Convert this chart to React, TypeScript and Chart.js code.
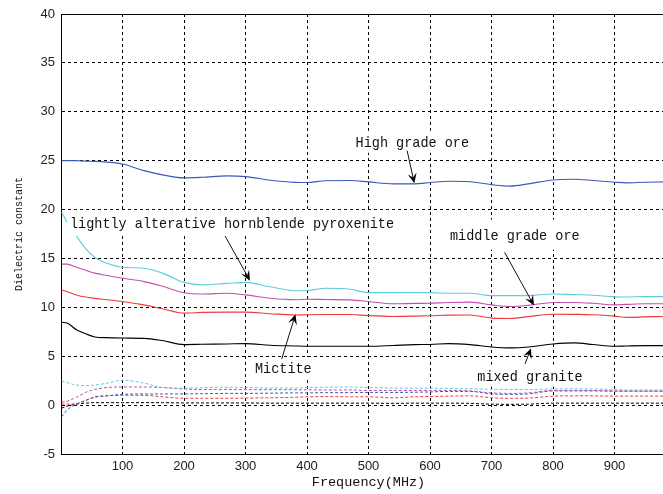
import React, { useEffect, useRef } from "react";
import { Chart, registerables } from "chart.js";

Chart.register(...registerables);

// Frequency samples (MHz)
const frequencies = [1, 10, 25, 40, 55, 75, 100, 135, 165, 200, 230, 270, 300, 340, 380, 400, 430, 470, 500, 540, 575, 600, 630, 665, 700, 730, 760, 800, 835, 865, 900, 920, 950, 980];

// Solid curves: dielectric constant
const highGradeOre = [25.0, 25.0, 25.0, 24.95, 24.93, 24.85, 24.66, 23.98, 23.55, 23.24, 23.3, 23.44, 23.37, 23.0, 22.78, 22.76, 22.95, 22.97, 22.83, 22.63, 22.63, 22.76, 22.9, 22.85, 22.55, 22.4, 22.63, 23.03, 23.1, 22.97, 22.8, 22.73, 22.8, 22.83];
const hornblendePyroxenite = [19.75, 18.7, 17.3, 16.0, 15.1, 14.5, 14.1, 14.0, 13.5, 12.55, 12.3, 12.45, 12.55, 12.1, 11.7, 11.72, 11.95, 11.85, 11.5, 11.5, 11.5, 11.5, 11.44, 11.44, 11.2, 11.2, 11.2, 11.37, 11.3, 11.24, 11.07, 11.05, 11.1, 11.1];
const middleGradeOre = [14.42, 14.42, 14.1, 13.8, 13.5, 13.25, 12.97, 12.63, 12.15, 11.5, 11.37, 11.44, 11.27, 10.93, 10.78, 10.83, 10.8, 10.76, 10.6, 10.36, 10.4, 10.42, 10.5, 10.53, 10.25, 10.08, 10.2, 10.5, 10.5, 10.42, 10.25, 10.3, 10.36, 10.36];
const mictite = [11.78, 11.6, 11.27, 11.05, 10.92, 10.78, 10.6, 10.25, 9.85, 9.41, 9.48, 9.51, 9.51, 9.35, 9.22, 9.24, 9.26, 9.27, 9.15, 9.07, 9.1, 9.14, 9.2, 9.22, 8.9, 8.86, 9.05, 9.3, 9.28, 9.24, 9.1, 8.97, 9.02, 9.07];
const mixedGranite = [8.46, 8.39, 7.71, 7.3, 6.97, 6.9, 6.86, 6.83, 6.6, 6.19, 6.22, 6.25, 6.29, 6.12, 6.05, 6.02, 6.02, 6.02, 6.02, 6.1, 6.19, 6.2, 6.29, 6.19, 5.95, 5.85, 5.95, 6.25, 6.36, 6.2, 6.02, 6.05, 6.08, 6.08];

// Dashed curves (same colours, lower values)
const hornblendeDashed = [2.48, 2.3, 2.05, 2.0, 2.05, 2.25, 2.55, 2.25, 1.8, 1.73, 1.78, 1.83, 1.8, 1.75, 1.75, 1.8, 1.83, 1.85, 1.8, 1.75, 1.73, 1.73, 1.7, 1.67, 1.62, 1.6, 1.6, 1.65, 1.67, 1.65, 1.6, 1.55, 1.55, 1.55];
const middleDashed = [0.3, 0.4, 0.8, 1.3, 1.6, 1.8, 1.85, 1.85, 1.8, 1.65, 1.6, 1.6, 1.58, 1.58, 1.57, 1.57, 1.55, 1.55, 1.5, 1.5, 1.5, 1.5, 1.5, 1.45, 1.25, 1.2, 1.25, 1.5, 1.5, 1.5, 1.45, 1.45, 1.45, 1.45];
const highDashed = [-1.2, -0.5, 0.1, 0.45, 0.85, 0.95, 1.1, 1.14, 1.14, 1.15, 1.17, 1.2, 1.2, 1.22, 1.25, 1.25, 1.27, 1.28, 1.3, 1.3, 1.32, 1.35, 1.4, 1.4, 1.15, 1.1, 1.15, 1.45, 1.45, 1.45, 1.42, 1.42, 1.42, 1.42];
const mictiteDashed = [0.1, 0.1, 0.15, 0.5, 0.8, 0.95, 1.0, 1.0, 0.85, 0.7, 0.7, 0.7, 0.72, 0.75, 0.8, 0.85, 0.87, 0.85, 0.85, 0.75, 0.85, 0.88, 0.92, 0.95, 0.75, 0.7, 0.72, 0.92, 0.95, 0.95, 0.92, 0.92, 0.92, 0.92];
const graniteDashed = [-0.3, -0.1, 0.1, 0.2, 0.25, 0.25, 0.25, 0.25, 0.25, 0.22, 0.22, 0.22, 0.22, 0.2, 0.2, 0.2, 0.2, 0.2, 0.2, 0.18, 0.2, 0.2, 0.2, 0.18, 0.1, 0.08, 0.1, 0.2, 0.2, 0.2, 0.2, 0.2, 0.2, 0.2];

// Axis settings
const xRange = [0, 1000];
const yRange = [-5, 40];
const xTitle = "Frequency(MHz)";
const yTitle = "Dielectric constant";

// Text arrows (anchored in data coordinates)
const textLabels = [
  { text: "High grade ore", f: 479, v: 26.93, half: 11 },
  { text: "lightly alterative hornblende pyroxenite", f: 14.6, v: 18.63, half: 13 },
  { text: "middle grade ore", f: 632.5, v: 17.43, half: 15 },
  { text: "Mictite", f: 315.4, v: 3.78, half: 11 },
  { text: "mixed granite", f: 676.9, v: 3.02, half: 11 },
];
const arrows = [
  { from: [562.8, 26.03], to: [574.5, 22.69] },
  { from: [266.7, 17.3], to: [307.3, 12.73] },
  { from: [721.3, 15.62], to: [769, 10.2] },
  { from: [358.9, 4.73], to: [381.3, 9.28] },
  { from: [754.5, 4.21], to: [764.2, 5.8] },
];

const BLUE = "#3a58b8";
const CYAN = "#5ccbdc";
const MAGENTA = "#c24fae";
const RED = "#f03a3a";
const BLACK = "#000000";

const toPoints = (vals: number[]) => frequencies.map((f, i) => ({ x: f, y: vals[i] }));

function drawArrow(ctx: CanvasRenderingContext2D, x0: number, y0: number, x1: number, y1: number) {
  const ang = Math.atan2(y1 - y0, x1 - x0);
  const L = 10;
  const W = 4.5;
  const c = Math.cos(ang);
  const s = Math.sin(ang);
  ctx.strokeStyle = "#111";
  ctx.fillStyle = "#000";
  ctx.lineWidth = 1;
  ctx.beginPath();
  ctx.moveTo(x0, y0);
  ctx.lineTo(x1 - c * L * 0.6, y1 - s * L * 0.6);
  ctx.stroke();
  const bx = x1 - c * L;
  const by = y1 - s * L;
  const nx = -s;
  const ny = c;
  const mx = x1 - c * L * 0.6;
  const my = y1 - s * L * 0.6;
  ctx.beginPath();
  ctx.moveTo(x1, y1);
  ctx.lineTo(bx + nx * W, by + ny * W);
  ctx.lineTo(mx, my);
  ctx.lineTo(bx - nx * W, by - ny * W);
  ctx.closePath();
  ctx.fill();
}

const annotationPlugin = {
  id: "matlabAnnotations",
  afterDatasetsDraw(chart: any) {
    const { ctx, chartArea, scales } = chart;
    const xs = scales.x;
    const ys = scales.y;
    ctx.save();
    // solid top box line
    ctx.strokeStyle = "#000";
    ctx.lineWidth = 1;
    ctx.beginPath();
    const ty = Math.round(chartArea.top) + 0.5;
    ctx.moveTo(chartArea.left, ty);
    ctx.lineTo(chartArea.right, ty);
    ctx.stroke();

    const sx = 0.9;
    ctx.font = '15px "Liberation Mono", "DejaVu Sans Mono", monospace';
    for (const a of textLabels) {
      const px = xs.getPixelForValue(a.f);
      const py = ys.getPixelForValue(a.v);
      const w = ctx.measureText(a.text).width * sx;
      ctx.fillStyle = "#ffffff";
      ctx.fillRect(px - 3, py - a.half, w + 6, a.half * 2);
      ctx.save();
      ctx.translate(px, py);
      ctx.scale(sx, 1);
      ctx.fillStyle = "#111";
      ctx.textBaseline = "middle";
      ctx.textAlign = "left";
      ctx.fillText(a.text, 0, 1);
      ctx.restore();
    }
    for (const ar of arrows) {
      drawArrow(
        ctx,
        xs.getPixelForValue(ar.from[0]),
        ys.getPixelForValue(ar.from[1]),
        xs.getPixelForValue(ar.to[0]),
        ys.getPixelForValue(ar.to[1])
      );
    }
    ctx.restore();
  },
};

export default function App() {
  const canvasRef = useRef<HTMLCanvasElement | null>(null);

  useEffect(() => {
    if (!canvasRef.current) return;
    const solid = (label: string, vals: number[], color: string) => ({
      label,
      data: toPoints(vals),
      borderColor: color,
      backgroundColor: color,
      borderWidth: 1.1,
      pointRadius: 0,
      cubicInterpolationMode: "monotone" as const,
      fill: false,
    });
    const dashed = (label: string, vals: number[], color: string) => ({
      ...solid(label, vals, color),
      borderDash: [3, 2],
      borderWidth: 1,
    });
    const tickFont = { family: "'Liberation Sans Narrow', 'Liberation Sans', Arial, sans-serif", size: 13 };
    const chart = new Chart(canvasRef.current, {
      type: "line",
      data: {
        datasets: [
          dashed("lightly alterative hornblende pyroxenite (dashed)", hornblendeDashed, CYAN),
          dashed("middle grade ore (dashed)", middleDashed, MAGENTA),
          dashed("High grade ore (dashed)", highDashed, BLUE),
          dashed("Mictite (dashed)", mictiteDashed, RED),
          dashed("mixed granite (dashed)", graniteDashed, BLACK),
          solid("High grade ore", highGradeOre, BLUE),
          solid("lightly alterative hornblende pyroxenite", hornblendePyroxenite, CYAN),
          solid("middle grade ore", middleGradeOre, MAGENTA),
          solid("Mictite", mictite, RED),
          solid("mixed granite", mixedGranite, BLACK),
        ],
      },
      options: {
        animation: false,
        responsive: false,
        maintainAspectRatio: false,
        layout: { padding: { top: 14, right: 4, bottom: 0, left: 0 } },
        plugins: { legend: { display: false }, tooltip: { enabled: false } },
        scales: {
          x: {
            type: "linear",
            min: xRange[0],
            max: xRange[1],
            ticks: { stepSize: 100, padding: 5, font: tickFont, color: "#222", maxRotation: 0 },
            grid: { color: "#000", lineWidth: 1, drawTicks: false },
            border: { color: "#000", width: 1, dash: [3, 3] },
            title: {
              display: true,
              text: xTitle,
              color: "#111",
              font: { family: '"Liberation Mono", "DejaVu Sans Mono", monospace', size: 13.5 },
              padding: { top: 0, bottom: 3 },
            },
            afterBuildTicks: (s: any) => {
              s.ticks = s.ticks.filter((t: any) => t.value > xRange[0] && t.value < xRange[1]);
            },
            afterFit: (s: any) => {
              s.height = 40;
            },
          },
          y: {
            type: "linear",
            min: yRange[0],
            max: yRange[1],
            ticks: { stepSize: 5, padding: 6, font: tickFont, color: "#222" },
            grid: { color: "#000", lineWidth: 1, drawTicks: false },
            border: { color: "#000", width: 1, dash: [3, 3] },
            title: {
              display: true,
              text: yTitle,
              color: "#111",
              font: { family: '"Liberation Mono", "DejaVu Sans Mono", monospace', size: 10 },
              padding: { top: 13, bottom: 0 },
            },
            afterFit: (s: any) => {
              s.width = 61;
            },
          },
        },
      } as any,
      plugins: [annotationPlugin],
    });
    return () => chart.destroy();
  }, []);

  return (
    <div style={{ position: "absolute", left: 0, top: 0, width: 663, height: 494, overflow: "hidden", background: "#fff" }}>
      <canvas ref={canvasRef} width={680} height={494} style={{ display: "block", width: 680, height: 494 }} />
    </div>
  );
}
